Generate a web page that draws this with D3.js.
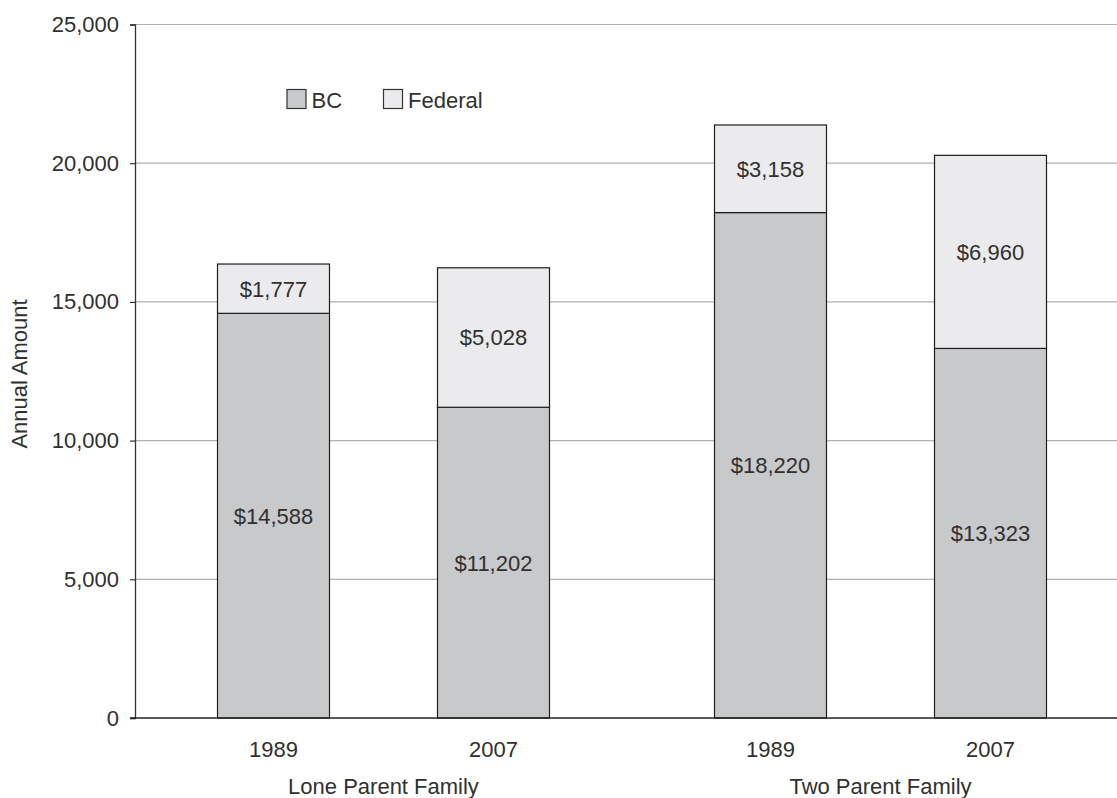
<!DOCTYPE html>
<html><head><meta charset="utf-8">
<script src="https://cdn.jsdelivr.net/npm/d3@7"></script>
<style>
html,body{margin:0;padding:0;background:#fff;}
svg text{font-family:"Liberation Sans",Arial,sans-serif;fill:#303030;}
</style></head>
<body>
<svg id="chart" width="1117" height="798"></svg>
<script>
const groups = ["Lone Parent Family", "Two Parent Family"];
const years = ["1989", "2007"];
const bcValues = [14588, 11202, 18220, 13323];
const federalValues = [1777, 5028, 3158, 6960];
const seriesNames = ["BC", "Federal"];
const seriesColors = ["#c8c9cb", "#ebebed"];
const yTicks = [0, 5000, 10000, 15000, 20000, 25000];

const FS = "22px";
const rows = [];
groups.forEach((g, gi) => years.forEach((yr, yi) => {
  const i = gi * years.length + yi;
  rows.push({group: g, year: yr, BC: bcValues[i], Federal: federalValues[i]});
}));

const svg = d3.select("#chart");
const m = {left: 135, top: 24.5, bottom: 718};
const y = d3.scaleLinear().domain([0, 25000]).range([m.bottom, m.top]);
const x0 = d3.scaleBand().domain(groups).range([135, 1129]).padding(0);
const x1 = d3.scaleBand().domain(years).range([0, x0.bandwidth()]).paddingInner(0.491).paddingOuter(0.375);

// gridlines
svg.append("g").selectAll("line").data(yTicks.filter(d => d > 0)).join("line")
  .attr("x1", m.left).attr("x2", 1117)
  .attr("y1", d => y(d)).attr("y2", d => y(d))
  .attr("stroke", "#b0b0b0").attr("stroke-width", 1.2);

// bars
const stack = d3.stack().keys(seriesNames)(rows);
const layer = svg.append("g").selectAll("g").data(stack).join("g")
  .attr("fill", (d, i) => seriesColors[i]);
layer.selectAll("rect").data(d => d).join("rect")
  .attr("x", d => x0(d.data.group) + x1(d.data.year))
  .attr("width", x1.bandwidth())
  .attr("y", d => y(d[1]))
  .attr("height", d => y(d[0]) - y(d[1]))
  .attr("stroke", "#1e1e1e").attr("stroke-width", 1.2);

// value labels
const fmt = d3.format(",");
stack.forEach(s => {
  svg.append("g").selectAll("text").data(s).join("text")
    .attr("x", d => x0(d.data.group) + x1(d.data.year) + x1.bandwidth() / 2)
    .attr("y", d => (y(d[0]) + y(d[1])) / 2)
    .attr("dy", "0.36em")
    .attr("text-anchor", "middle")
    .style("font-size", FS)
    .text(d => "$" + fmt(d[1] - d[0]));
});

// y axis
const yAxis = svg.append("g").attr("transform", `translate(${m.left},0)`)
  .call(d3.axisLeft(y).tickValues(yTicks).tickFormat(d3.format(",")).tickSize(5).tickPadding(11));
yAxis.select(".domain").attr("stroke", "#333").attr("stroke-width", 1.3);
yAxis.selectAll(".tick line").attr("stroke", "#333").attr("stroke-width", 1.2);
yAxis.selectAll("text").style("font-size", FS).style("font-family", "Liberation Sans, Arial, sans-serif").attr("fill", "#303030");

// x axis line
svg.append("line").attr("x1", 130).attr("x2", 1117).attr("y1", y(0)).attr("y2", y(0))
  .attr("stroke", "#222").attr("stroke-width", 1.3);

// year labels
svg.append("g").selectAll("text").data(rows).join("text")
  .attr("x", d => x0(d.group) + x1(d.year) + x1.bandwidth() / 2)
  .attr("y", y(0) + 39)
  .attr("text-anchor", "middle")
  .style("font-size", FS)
  .text(d => d.year);

// group labels
svg.append("g").selectAll("text").data(groups).join("text")
  .attr("x", d => x0(d) + x0.bandwidth() / 2)
  .attr("y", 794)
  .attr("text-anchor", "middle")
  .style("font-size", FS)
  .text(d => d);

// y axis title
svg.append("text")
  .attr("transform", "translate(27,374) rotate(-90)")
  .attr("text-anchor", "middle")
  .style("font-size", FS)
  .text("Annual Amount");

// legend
const legendX = [287, 383.5];
const lg = svg.append("g").selectAll("g").data(seriesNames).join("g")
  .attr("transform", (d, i) => `translate(${legendX[i]},89.5)`);
lg.append("rect").attr("width", 19).attr("height", 19)
  .attr("fill", (d, i) => seriesColors[i]).attr("stroke", "#333").attr("stroke-width", 1.2);
lg.append("text").attr("x", 24.5).attr("y", 18).style("font-size", FS).text(d => d);
</script>
</body></html>
